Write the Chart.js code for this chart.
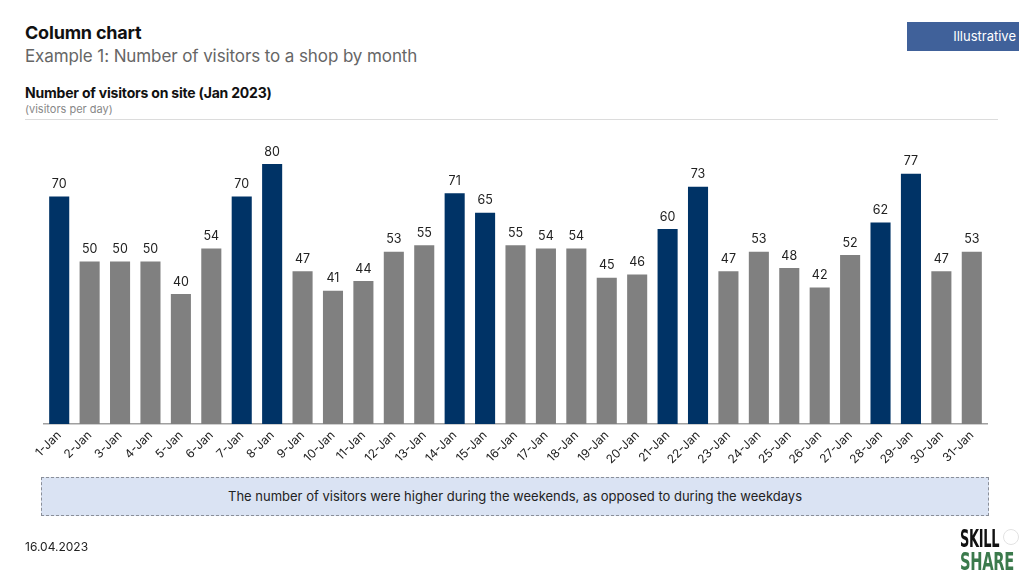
<!DOCTYPE html>
<html><head><meta charset="utf-8">
<script src="https://cdn.jsdelivr.net/npm/chart.js@4"></script>
<style>
html,body{margin:0;padding:0;background:#fff;}
body{width:1024px;height:576px;position:relative;overflow:hidden;font-family:Inter,"Noto Sans",sans-serif;color:#111;}
.abs{position:absolute;white-space:nowrap;}
#c{position:absolute;left:0;top:0;}
.logo{font-family:'DejaVu Sans Condensed','DejaVu Sans',sans-serif;font-weight:700;font-size:24px;line-height:24px;transform-origin:left;letter-spacing:-0.5px;}
</style></head><body>
<div class="abs" style="left:25px;top:22px;font-size:18px;font-weight:700;letter-spacing:-0.2px;">Column chart</div>
<div class="abs" style="left:25px;top:46px;font-size:17px;color:#666;letter-spacing:-0.1px;">Example 1: Number of visitors to a shop by month</div>
<div class="abs" style="left:907px;top:22px;width:112px;height:29px;background:#40619a;"></div>
<div class="abs" style="left:907px;top:28px;width:109px;text-align:right;font-size:13px;color:#fff;">Illustrative</div>
<div class="abs" style="left:25px;top:84px;font-size:14px;font-weight:700;letter-spacing:-0.2px;">Number of visitors on site (Jan 2023)</div>
<div class="abs" style="left:25px;top:102px;font-size:11px;color:#888;">(visitors per day)</div>
<div class="abs" style="left:25px;top:119px;width:973px;height:1px;background:#dcdcdc;"></div>
<canvas id="c" width="1024" height="576"></canvas>
<div class="abs" style="left:41px;top:477px;width:946px;height:37px;background:#dae3f3;border:1px dashed #8a8f99;"></div>
<div class="abs" style="left:41px;top:488px;width:948px;text-align:center;font-size:13px;color:#222;">The number of visitors were higher during the weekends, as opposed to during the weekdays</div>
<div class="abs" style="left:25px;top:539px;font-size:12px;color:#222;">16.04.2023</div>
<div class="abs logo" style="left:960px;top:527px;color:#111;transform:scaleX(0.6);">SKILL</div>
<div class="abs logo" style="left:960px;top:550px;color:#3b7a4c;transform:scaleX(0.68);">SHARE</div>
<div class="abs" style="left:1003px;top:529px;width:14px;height:14px;border-radius:50%;border:1px solid #e2e2e2;"></div>
<script>
const categories = ["1-Jan","2-Jan","3-Jan","4-Jan","5-Jan","6-Jan","7-Jan","8-Jan","9-Jan","10-Jan","11-Jan","12-Jan","13-Jan","14-Jan","15-Jan","16-Jan","17-Jan","18-Jan","19-Jan","20-Jan","21-Jan","22-Jan","23-Jan","24-Jan","25-Jan","26-Jan","27-Jan","28-Jan","29-Jan","30-Jan","31-Jan"];
const visitors = [70,50,50,50,40,54,70,80,47,41,44,53,55,71,65,55,54,54,45,46,60,73,47,53,48,42,52,62,77,47,53];
const weekendDays = ["1-Jan","7-Jan","8-Jan","14-Jan","15-Jan","21-Jan","22-Jan","28-Jan","29-Jan"];
const weekendColor = "#003366";
const weekdayColor = "#808080";

const barColors = categories.map(c => weekendDays.includes(c) ? weekendColor : weekdayColor);

const valueLabels = {
  id: 'valueLabels',
  afterDatasetsDraw(chart) {
    const ctx = chart.ctx;
    const meta = chart.getDatasetMeta(0);
    ctx.save();
    ctx.font = '12.5px Inter, "Noto Sans", sans-serif';
    ctx.fillStyle = '#222';
    ctx.textAlign = 'center';
    ctx.textBaseline = 'bottom';
    meta.data.forEach((bar, i) => {
      ctx.fillText(String(chart.data.datasets[0].data[i]), bar.x, bar.y - 6);
    });
    ctx.restore();
  }
};

new Chart(document.getElementById('c'), {
  type: 'bar',
  data: {
    labels: categories,
    datasets: [{
      data: visitors,
      backgroundColor: barColors,
      categoryPercentage: 1,
      barPercentage: 0.66
    }]
  },
  options: {
    responsive: false,
    animation: false,
    layout: { padding: { top: 99, left: 44, right: 37, bottom: 0 } },
    plugins: { legend: { display: false }, tooltip: { enabled: false } },
    scales: {
      y: { display: false, min: 0, max: 100 },
      x: {
        grid: { display: false, drawTicks: false },
        border: { display: true, color: '#a0a0a0', width: 1.5 },
        ticks: {
          autoSkip: false, maxRotation: 45, minRotation: 45, padding: 4,
          color: '#222', font: { family: 'Inter, "Noto Sans", sans-serif', size: 12 }
        },
        afterFit(scale) { scale.height = 152; }
      }
    }
  },
  plugins: [valueLabels]
});
</script>
</body></html>
